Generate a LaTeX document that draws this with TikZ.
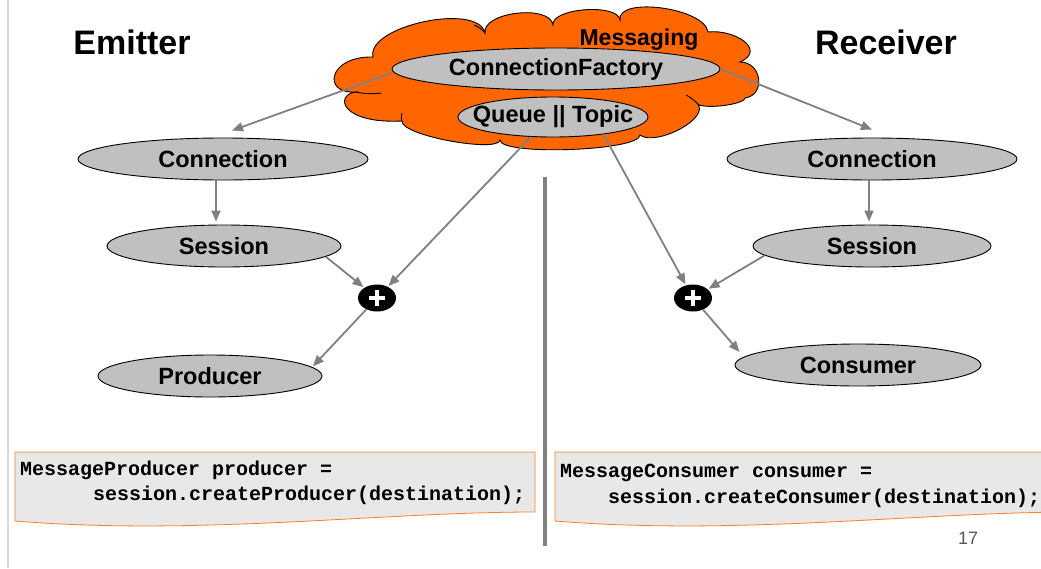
\documentclass[tikz,border=0pt]{standalone}
\usepackage{fontspec}
\setmainfont{Liberation Sans}
\setmonofont{Liberation Mono}
\usetikzlibrary{shapes.geometric,arrows.meta,calc}
\definecolor{orng}{HTML}{FF6600}
\definecolor{silv}{HTML}{C0C0C0}
\definecolor{linkgray}{HTML}{808080}
\definecolor{codebg}{HTML}{E8E8E8}
\definecolor{codeedge}{HTML}{FF7F27}
\definecolor{pagenum}{HTML}{595959}
\definecolor{rule}{HTML}{D9D9D9}

\begin{document}
\begin{tikzpicture}[x=1pt,y=-1pt,
  oval/.style={ellipse, draw=black, line width=0.9pt, fill=silv, inner sep=-40pt,
    font=\fontsize{23.5}{27}\selectfont\bfseries},
  plusnode/.style={ellipse, fill=black, minimum width=38pt, minimum height=27pt, inner sep=0pt,
    path picture={
      \draw[white, line width=3.4pt]
        ([xshift=-8pt]path picture bounding box.center) -- ([xshift=8pt]path picture bounding box.center)
        ([yshift=-8pt]path picture bounding box.center) -- ([yshift=8pt]path picture bounding box.center);
    }},
  flow/.style={draw=linkgray, line width=1.8pt, -{Triangle[length=11pt,width=9pt]}},
  title/.style={font=\fontsize{34}{40}\selectfont\bfseries},
  codebox/.style={draw=codeedge, fill=codebg, line width=0.8pt},
  codeline/.style={font=\fontsize{20}{24}\selectfont\ttfamily\bfseries, anchor=west, inner sep=0pt},
  puff/.style={draw=black, line width=0.9pt}
]
\useasboundingbox (0,0) rectangle (1041,568);
\clip (0,0) rectangle (1041,568);

% thin margin rule on the left
\draw[rule, line width=2pt] (8,0) -- (8,568);

% headings
\node[title] (emit) at (132,42) {Emitter};
\node[title] (recv) at (886,42) {Receiver};

% messaging cloud, built from puffs
\draw[puff, fill=orng]
  (355,92) .. controls (322,94) and (328,56) .. (373,57)
  .. controls (366,26) and (478,2) .. (485,33)
  .. controls (482,12) and (550,4) .. (553,25)
  .. controls (551,8) and (618,3) .. (620,20)
  .. controls (617,-4) and (705,8) .. (708,32)
  .. controls (735,29) and (767,50) .. (740,62)
  .. controls (762,62) and (766,95) .. (745,98)
  .. controls (744,105) and (700,110) .. (697,103)
  .. controls (712,118) and (655,147) .. (640,135)
  .. controls (640,151) and (500,156) .. (500,140)
  .. controls (499,153) and (401,136) .. (402,121)
  .. controls (342,124) and (334,96) .. (355,92) -- cycle;
% small inner creases of the cloud
\draw[puff] (355,92) .. controls (365,94) and (374,94) .. (381,93);
\draw[puff] (474,25) .. controls (479,27) and (483,30) .. (485,33);
\draw[puff] (402,121) .. controls (401,118) and (401,116) .. (402,113);
\draw[puff] (697,103) .. controls (694,100) and (690,97) .. (686,95);

\node[font=\fontsize{23}{27}\selectfont\bfseries] (msg) at (639,40) {Messaging};
\node[oval, minimum width=328pt, minimum height=42pt] (cf) at (556,69) {ConnectionFactory};
\node[oval, minimum width=190pt, minimum height=40pt] (q) at (553,117) {Queue || Topic};

% emitter side
\node[oval, minimum width=290pt, minimum height=42pt] (lconn) at (223,159) {Connection};
\node[oval, minimum width=234pt, minimum height=42pt] (lsess) at (224,246) {Session};
\node[plusnode] (lplus) at (377,298) {};
\node[oval, minimum width=224pt, minimum height=42pt] (lprod) at (210,376) {Producer};

% receiver side
\node[oval, minimum width=290pt, minimum height=42pt] (rconn) at (872,159) {Connection};
\node[oval, minimum width=238pt, minimum height=42pt] (rsess) at (872,246) {Session};
\node[plusnode] (rplus) at (693,298) {};
\node[oval, minimum width=246pt, minimum height=42pt] (rcons) at (858,365) {Consumer};

% connectors
\draw[flow] ([yshift=-4pt]cf.west) -- ([xshift=9pt,yshift=7pt]lconn.north);
\draw[flow] (cf.east) -- ([yshift=8pt]rconn.north);
\draw[flow, shorten >=3pt] ([xshift=-7pt]lconn.south) -- ([xshift=-8pt]lsess.north);
\draw[flow, shorten >=3pt] ([xshift=-3pt]rconn.south) -- ([xshift=-3pt]rsess.north);
\draw[flow, shorten >=1pt] (lsess.-6) -- (lplus);
\draw[flow, shorten >=1pt] (q.222) -- (lplus);
\draw[flow, shorten >=1pt] (q.-19) -- (rplus);
\draw[flow, shorten >=1pt] (rsess.185) -- (rplus);
\draw[flow, shorten >=1pt] (lplus) -- (lprod.5);
\draw[flow] (rplus) -- ([xshift=5pt,yshift=13pt]rcons.west);

% separator between the two sides
\draw[linkgray, line width=3.5pt] (545,177) -- (545,546);

% code snippets
\draw[codebox] (15,452) -- (535,452) -- (535,512)
  .. controls (380,512) and (200,536) .. (15,521) -- cycle;
\node[codeline] (pcode1) at (20,470) {MessageProducer producer =};
\node[codeline] (pcode2) at (93,495) {session.createProducer(destination);};

\draw[codebox] (555,452) -- (1075,452) -- (1075,512)
  .. controls (920,512) and (740,536) .. (555,521) -- cycle;
\node[codeline] (ccode1) at (560,473) {MessageConsumer consumer =};
\node[codeline] (ccode2) at (608,498) {session.createConsumer(destination);};

% page number
\node[text=pagenum, font=\fontsize{18}{20}\selectfont] (page) at (968,538) {17};
\end{tikzpicture}
\end{document}
